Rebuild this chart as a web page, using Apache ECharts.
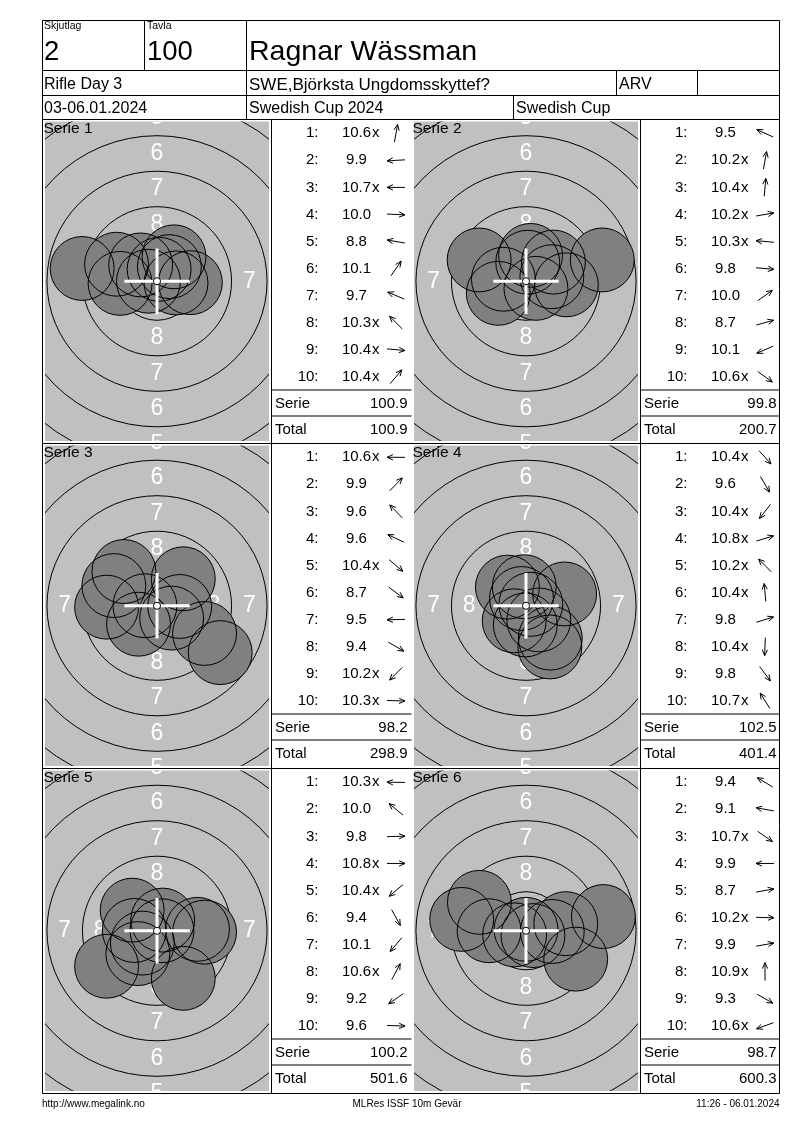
<!DOCTYPE html>
<html><head><meta charset="utf-8">
<script src="https://cdn.jsdelivr.net/npm/echarts@6/dist/echarts.min.js"></script>
<style>html,body{margin:0;padding:0;background:#fff}#c{width:800px;height:1130px}</style>
</head><body><div id="c"></div>
<script>
// ---------- header / footer texts ----------
const relayLabel = 'Skjutlag';
const targetLabel = 'Tavla';
const relayNo = '2';
const targetNo = '100';
const shooterName = 'Ragnar Wässman';
const eventName = 'Rifle Day 3';
const clubName = 'SWE,Björksta Ungdomsskyttef?';
const classCode = 'ARV';
const dateText = '03-06.01.2024';
const competitionName = 'Swedish Cup 2024';
const cupName = 'Swedish Cup';
const footerLeft = 'http://www.megalink.no';
const footerCenter = 'MLRes ISSF 10m Gevär';
const footerRight = '11:26 - 06.01.2024';

const serieLabels = ['Serie 1', 'Serie 2', 'Serie 3', 'Serie 4', 'Serie 5', 'Serie 6'];

// ---------- shot scores (x = inner ten) ----------
const scores1 = ['10.6x', '9.9', '10.7x', '10.0', '8.8', '10.1', '9.7', '10.3x', '10.4x', '10.4x'];
const scores2 = ['9.5', '10.2x', '10.4x', '10.2x', '10.3x', '9.8', '10.0', '8.7', '10.1', '10.6x'];
const scores3 = ['10.6x', '9.9', '9.6', '9.6', '10.4x', '8.7', '9.5', '9.4', '10.2x', '10.3x'];
const scores4 = ['10.4x', '9.6', '10.4x', '10.8x', '10.2x', '10.4x', '9.8', '10.4x', '9.8', '10.7x'];
const scores5 = ['10.3x', '10.0', '9.8', '10.8x', '10.4x', '9.4', '10.1', '10.6x', '9.2', '9.6'];
const scores6 = ['9.4', '9.1', '10.7x', '9.9', '8.7', '10.2x', '9.9', '10.9x', '9.3', '10.6x'];

// ---------- shot positions on target, mm from centre (x right, y up) ----------
const shotX1 = [0.15, -2.6, -0.6, 2.35, -5.27, 1.2, -2.85, -1.15, 1.34, 0.87];
const shotY1 = [0.84, -0.15, 0.0, -0.1, 0.9, 1.72, 1.2, 1.15, -0.12, 1.03];
const shotX2 = [-3.3, 0.32, 0.12, 1.82, -1.59, 2.84, 1.93, 5.37, -1.95, 0.7];
const shotY2 = [1.5, 1.82, 1.34, 0.32, 0.14, -0.25, 1.35, 1.5, -0.85, -0.5];
const shotX3 = [-0.85, 1.85, -2.33, -3.04, 1.03, 4.45, -3.55, 3.35, -1.3, 1.6];
const shotY3 = [0.0, 1.9, 2.41, 1.42, -0.87, -3.3, -0.1, -1.95, -1.3, -0.05];
const shotX4 = [0.9, 1.68, -0.83, 0.34, -1.31, -0.12, 2.72, -0.05, 1.71, -0.32];
const shotY4 = [-1.0, -2.9, -1.06, 0.1, 1.31, 1.34, 0.83, -1.35, -2.28, 0.51];
const shotX5 = [-1.6, -1.75, 2.85, 0.35, -1.03, 1.85, -1.35, 0.4, -3.55, 3.35];
const shotY5 = [0.02, 1.45, 0.1, 0.0, -0.87, -3.35, -1.61, 0.75, -2.5, -0.1];
const shotX6 = [-3.28, -4.53, 0.49, -2.6, 5.45, 1.85, 2.8, 0.0, 3.5, -0.8];
const shotY6 = [2.0, 0.8, -0.34, 0.0, 1.0, -0.05, 0.5, 0.1, -2.0, -0.29];

// ---------- target geometry (ISSF 10m air rifle, mm) ----------
const ringRadiiMm = [2.75, 5.25, 7.75, 10.25, 12.75, 15.25];
const ringLabelTexts = ['8', '7', '6', '5'];
const ringLabelRadiiMm = [4.0, 6.5, 9.0, 11.5];
const tenDotMm = 0.25;
const pelletMm = 4.5;
const crossHalfMm = 2.3;

// ---------- layout ----------
const PX_PER_MM = 14.2;
const FONT = '"Liberation Sans", Arial, Helvetica, sans-serif';
const colX = [42.5, 411.5];
const tgtW = 229;
const rightX = 779.5;
const rowTops = [119.5, 443.5, 768.5];
const rowBottom = 1093.5;

const allScores = [scores1, scores2, scores3, scores4, scores5, scores6];
const allX = [shotX1, shotX2, shotX3, shotX4, shotX5, shotX6];
const allY = [shotY1, shotY2, shotY3, shotY4, shotY5, shotY6];

const grids = [], xAxes = [], yAxes = [], series = [], graphics = [];

function txt(x, y, text, size, align, color) {
  graphics.push({type: 'text', x: x, y: y, z: 100, silent: true,
    style: {text: text, fill: color || '#000', font: size + 'px ' + FONT, align: align || 'left', verticalAlign: 'middle'}});
}
function ln(x1, y1, x2, y2) {
  graphics.push({type: 'line', z: 100, silent: true, shape: {x1: x1, y1: y1, x2: x2, y2: y2}, style: {stroke: '#000', lineWidth: 1}});
}
function arrow(cx, cy, ang) {
  const c = Math.cos(ang), s = Math.sin(ang), h = 9;
  const tx = cx + h * c, ty = cy - h * s, bx = cx - h * c, by = cy + h * s;
  const hl = 6.5, ha = 0.42;
  const a1 = ang + Math.PI - ha, a2 = ang + Math.PI + ha;
  graphics.push({type: 'line', z: 100, silent: true, shape: {x1: bx, y1: by, x2: tx, y2: ty}, style: {stroke: '#000', lineWidth: 1}});
  graphics.push({type: 'polyline', z: 100, silent: true,
    shape: {points: [[tx + hl * Math.cos(a1), ty - hl * Math.sin(a1)], [tx, ty], [tx + hl * Math.cos(a2), ty - hl * Math.sin(a2)]]},
    style: {stroke: '#000', fill: null, lineWidth: 1}});
}

// ---------- header ----------
[20.5, 70.5, 95.5, 119.5, 443.5, 768.5, 1093.5].forEach(function (y) { ln(42.5, y, rightX, y); });
ln(42.5, 20.5, 42.5, rowBottom);
ln(rightX, 20.5, rightX, rowBottom);
ln(144.5, 20.5, 144.5, 70.5);
ln(246.5, 20.5, 246.5, 119.5);
ln(616.5, 70.5, 616.5, 95.5);
ln(697.5, 70.5, 697.5, 95.5);
ln(513.5, 95.5, 513.5, 119.5);

txt(44, 26.5, relayLabel, 10.5);
txt(147, 26.5, targetLabel, 10.5);
txt(44, 52, relayNo, 27.5);
txt(147, 52, targetNo, 27.5);
txt(249, 52, shooterName, 28.5);
txt(44, 85, eventName, 16);
txt(249, 85, clubName, 17);
txt(619, 85, classCode, 16);
txt(44, 108.5, dateText, 16);
txt(249, 108.5, competitionName, 16);
txt(516, 108.5, cupName, 16);

txt(42, 1104, footerLeft, 10);
txt(407, 1104, footerCenter, 10, 'center');
txt(rightX, 1104, footerRight, 10, 'right');

// ---------- panels ----------
let running = 0;
for (let p = 0; p < 6; p++) {
  const row = Math.floor(p / 2), col = p % 2;
  const rt = rowTops[row];
  const rb = row < 2 ? rowTops[row + 1] : rowBottom;
  const rh = rb - rt;
  const px = colX[col];
  const gl = px + 2.5, gw = tgtW - 5, gt = rt + 2, gh = rh - 4.5;
  grids.push({left: gl, top: gt, width: gw, height: gh, show: true, backgroundColor: '#c0c0c0', borderWidth: 0, outerBoundsMode: 'none'});
  const xh = gw / 2 / PX_PER_MM, yh = gh / 2 / PX_PER_MM;
  xAxes.push({type: 'value', gridIndex: p, min: -xh, max: xh, show: false});
  yAxes.push({type: 'value', gridIndex: p, min: -yh, max: yh, show: false});

  // rings + ring numbers
  series.push({type: 'custom', xAxisIndex: p, yAxisIndex: p, clip: true, silent: true, z: 1, data: [[0, 0]],
    renderItem: function (params, api) {
      const c = api.coord([0, 0]);
      const u = api.size([1, 1])[0];
      const ch = [];
      ringRadiiMm.forEach(function (r) {
        ch.push({type: 'circle', shape: {cx: c[0], cy: c[1], r: r * u}, style: {fill: 'none', stroke: '#000', lineWidth: 1}});
      });
      ringLabelRadiiMm.forEach(function (r, i) {
        [[0, -1], [0, 1], [-1, 0], [1, 0]].forEach(function (d) {
          ch.push({type: 'text', style: {text: ringLabelTexts[i], x: c[0] + d[0] * r * u, y: c[1] + d[1] * r * u,
            fill: '#fff', font: '23px ' + FONT, align: 'center', verticalAlign: 'middle'}});
        });
      });
      return {type: 'group', children: ch};
    }});

  const data = allX[p].map(function (x, i) { return [x, allY[p][i]]; });
  // shot fills
  series.push({type: 'scatter', xAxisIndex: p, yAxisIndex: p, data: data, symbol: 'circle', symbolSize: pelletMm * PX_PER_MM,
    itemStyle: {color: '#808080', opacity: 1}, silent: true, z: 2, emphasis: {disabled: true}});
  // shot outlines
  series.push({type: 'scatter', xAxisIndex: p, yAxisIndex: p, data: data, symbol: 'circle', symbolSize: pelletMm * PX_PER_MM,
    itemStyle: {color: 'rgba(0,0,0,0)', borderColor: '#000', borderWidth: 1, opacity: 1}, silent: true, z: 3, emphasis: {disabled: true}});
  // centre cross + ten dot
  series.push({type: 'custom', xAxisIndex: p, yAxisIndex: p, clip: true, silent: true, z: 4, data: [[0, 0]],
    renderItem: function (params, api) {
      const c = api.coord([0, 0]);
      const u = api.size([1, 1])[0];
      const L = crossHalfMm * u;
      return {type: 'group', children: [
        {type: 'line', shape: {x1: c[0] - L, y1: c[1], x2: c[0] + L, y2: c[1]}, style: {stroke: '#fff', lineWidth: 3}},
        {type: 'line', shape: {x1: c[0], y1: c[1] - L, x2: c[0], y2: c[1] + L}, style: {stroke: '#fff', lineWidth: 3}},
        {type: 'circle', shape: {cx: c[0], cy: c[1], r: tenDotMm * u}, style: {fill: '#fff', stroke: '#000', lineWidth: 1}}
      ]};
    }});

  // serie label on target
  txt(px + 1, rt + 9.5, serieLabels[p], 15.5);

  // table
  const tl = px + tgtW;
  const tr = col === 0 ? colX[1] : rightX;
  ln(tl, rt, tl, rb);
  ln(tl, rt + 270.5, tr, rt + 270.5);
  ln(tl, rt + 296.5, tr, rt + 296.5);
  let sum = 0;
  allScores[p].forEach(function (s, i) {
    const y = rt + 13.8 + i * 27.05;
    const num = s.replace('x', '');
    sum += parseFloat(num);
    txt(tl + 47, y, (i + 1) + ':', 15, 'right');
    txt(tl + 85, y, num, 15, 'center');
    if (s.indexOf('x') >= 0) txt(tl + 100.5, y, 'x', 15, 'left');
    arrow(tl + 124.5, y, Math.atan2(allY[p][i], allX[p][i]));
  });
  sum = Math.round(sum * 10) / 10;
  running = Math.round((running + sum) * 10) / 10;
  txt(tl + 3.5, rt + 284, 'Serie', 15);
  txt(tl + 136, rt + 284, sum.toFixed(1), 15, 'right');
  txt(tl + 3.5, rt + 310, 'Total', 15);
  txt(tl + 136, rt + 310, running.toFixed(1), 15, 'right');
}

const chart = echarts.init(document.getElementById('c'), null, {renderer: 'canvas'});
chart.setOption({
  animation: false,
  backgroundColor: '#fff',
  grid: grids,
  xAxis: xAxes,
  yAxis: yAxes,
  series: series,
  graphic: {elements: graphics}
});
</script>
</body></html>
